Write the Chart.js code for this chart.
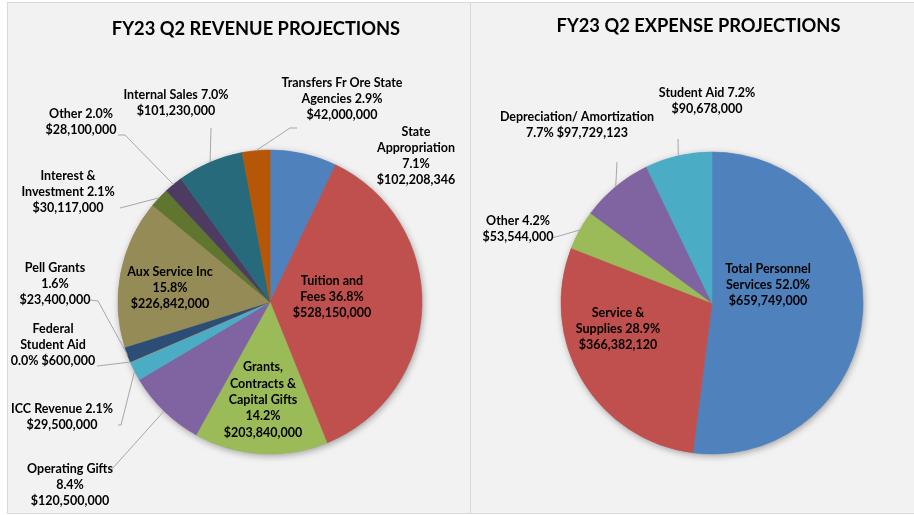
<!DOCTYPE html>
<html><head><meta charset="utf-8">
<script src="https://cdn.jsdelivr.net/npm/chart.js@4"></script>
<style>
html,body{margin:0;padding:0;background:#fff;width:914px;height:515px;overflow:hidden}
.panel{position:absolute;background:#f2f2f2;border:1px solid #d9d9d9;box-sizing:border-box}
#p1{left:7px;top:2px;width:464px;height:512px}
#p2{left:470px;top:2px;width:450px;height:512px}
.cv{position:absolute}
#w1{left:8px;top:3px;width:462px;height:509px}
#w2{left:471px;top:3px;width:443px;height:509px}
</style></head>
<body>
<div class="panel" id="p1"></div>
<div class="panel" id="p2"></div>
<div class="cv" id="w1"><canvas id="c1" width="462" height="509"></canvas></div>
<div class="cv" id="w2"><canvas id="c2" width="443" height="509"></canvas></div>
<script>
// ---------- DATA ----------
const revenueTitle = 'FY23 Q2 REVENUE PROJECTIONS';
const revenueCategories = ['State Appropriation','Tuition and Fees','Grants, Contracts & Capital Gifts','Operating Gifts','ICC Revenue','Federal Student Aid','Pell Grants','Aux Service Inc','Interest & Investment','Other','Internal Sales','Transfers Fr Ore State Agencies'];
const revenueValues = [102208346,528150000,203840000,120500000,29500000,600000,23400000,226842000,30117000,28100000,101230000,42000000];
const revenueColors = ['#4F81BD','#C0504D','#9BBB59','#8064A2','#4BACC6','#F79646','#2C4D75','#958B56','#5F7530','#4D3B62','#276A7C','#B65708'];

const expenseTitle = 'FY23 Q2 EXPENSE PROJECTIONS';
const expenseCategories = ['Total Personnel Services','Service & Supplies','Other','Depreciation/ Amortization','Student Aid'];
const expenseValues = [659749000,366382120,53544000,97729123,90678000];
const expenseColors = ['#4F81BD','#C0504D','#9BBB59','#8064A2','#4BACC6'];

// ---------- LABEL LAYOUT (offsets from pie centre, words per line) ----------
const revenueLayout = [
  {dx:146,dy:-146,words:[1,1,1,1]},
  {dx:62,dy:-5,words:[2,2,1]},
  {dx:-7,dy:98,words:[1,2,2,1,1]},
  {dx:-200,dy:183,words:[2,1,1],line:[[-158,167]]},
  {dx:-208,dy:115,words:[3,1],line:[[-152,123],[-149,123]]},
  {dx:-217,dy:43,words:[1,2,2],line:[[-173,64]]},
  {dx:-215,dy:-18,words:[2,1,1],line:[[-180,-2],[-172,-1]]},
  {dx:-100,dy:-14,words:[3,1,1]},
  {dx:-202,dy:-110,words:[2,2,1],line:[[-150,-94]]},
  {dx:-189,dy:-180,words:[2,1],line:[[-152,-167],[-145,-167]]},
  {dx:-94,dy:-199,words:[3,1],line:[[-59,-174]]},
  {dx:72,dy:-203,words:[4,2,1],line:[[27,-174],[20,-174]]}
];
const expenseLayout = [
  {dx:56,dy:-18,words:[2,2,1]},
  {dx:-94,dy:26,words:[2,2,1]},
  {dx:-194,dy:-74,words:[2,1],line:[[-160,-65]]},
  {dx:-135,dy:-178,words:[2,2],line:[[-95,-141]]},
  {dx:-5,dy:-202,words:[3,1],line:[[-34,-164]]}
];

const FONT = 'Lato, "Open Sans", sans-serif';

const shadowPlugin = {
  id:'pieShadow',
  beforeDatasetsDraw(chart){
    const arc = chart.getDatasetMeta(0).data[0];
    if(!arc) return;
    const {x,y,outerRadius} = arc.getProps(['x','y','outerRadius'],true);
    const ctx = chart.ctx;
    ctx.save();
    ctx.shadowColor='rgba(0,0,0,0.35)';
    ctx.shadowBlur=7; ctx.shadowOffsetX=1; ctx.shadowOffsetY=2;
    ctx.fillStyle='#999';
    ctx.beginPath(); ctx.arc(x,y,outerRadius,0,Math.PI*2); ctx.fill();
    ctx.restore();
  }
};

const titlePlugin = {
  id:'panelTitle',
  afterDraw(chart,args,opts){
    const ctx=chart.ctx;
    ctx.save();
    ctx.font='bold '+opts.size+'px '+FONT;
    ctx.fillStyle='#000';
    ctx.textAlign='center'; ctx.textBaseline='middle';
    ctx.fillText(opts.text, opts.x, opts.y);
    ctx.restore();
  }
};

const labelPlugin = {
  id:'sliceLabels',
  afterDatasetsDraw(chart,args,opts){
    const ctx=chart.ctx;
    const meta=chart.getDatasetMeta(0);
    const vals=chart.data.datasets[0].data;
    const cats=chart.data.labels;
    const total=vals.reduce((a,b)=>a+b,0);
    meta.data.forEach((arc,i)=>{
      const p=arc.getProps(['x','y','startAngle','endAngle','outerRadius'],true);
      const L=opts.layout[i];
      const mid=(p.startAngle+p.endAngle)/2;
      if(L.line){
        ctx.save();
        ctx.strokeStyle='#a6a6a6'; ctx.lineWidth=1;
        ctx.beginPath();
        L.line.forEach((pt,k)=>{ const fx=p.x+pt[0], fy=p.y+pt[1]; if(k===0) ctx.moveTo(fx,fy); else ctx.lineTo(fx,fy); });
        ctx.lineTo(p.x+Math.cos(mid)*p.outerRadius, p.y+Math.sin(mid)*p.outerRadius);
        ctx.stroke();
        ctx.restore();
      }
      const pct=(vals[i]/total*100).toFixed(1)+'%';
      const money='$'+vals[i].toLocaleString('en-US');
      const tokens=cats[i].split(' ').concat([pct,money]);
      const lines=[]; let k=0;
      L.words.forEach(n=>{ lines.push(tokens.slice(k,k+n).join(' ')); k+=n; });
      ctx.save();
      ctx.font='bold '+opts.size+'px '+FONT;
      ctx.fillStyle='#000'; ctx.textAlign='center'; ctx.textBaseline='middle';
      const lh=opts.lineHeight;
      const cx=p.x+L.dx, cy=p.y+L.dy;
      lines.forEach((t,j)=>ctx.fillText(t, cx, cy+(j-(lines.length-1)/2)*lh));
      ctx.restore();
    });
  }
};

function makePie(id, cats, vals, colors, layout, radius, pad, title){
  return new Chart(document.getElementById(id),{
    type:'pie',
    data:{labels:cats,datasets:[{data:vals,backgroundColor:colors,borderColor:colors,borderWidth:0.6,hoverOffset:0}]},
    options:{
      responsive:false, animation:false, devicePixelRatio:1,
      radius:radius,
      layout:{padding:pad},
      events:[],
      plugins:{legend:{display:false},tooltip:{enabled:false},title:{display:false},
        sliceLabels:{layout:layout,size:12.5,lineHeight:16.3},
        panelTitle:title}
    },
    plugins:[shadowPlugin,labelPlugin,titlePlugin]
  });
}

makePie('c1',revenueCategories,revenueValues,revenueColors,revenueLayout,152,{left:62,right:0,top:89,bottom:0},{text:revenueTitle,x:248,y:26.5,size:18.3});
makePie('c2',expenseCategories,expenseValues,expenseColors,expenseLayout,151,{left:39,right:0,top:91,bottom:0},{text:expenseTitle,x:227.5,y:23.5,size:18.3});
</script>
</body></html>
